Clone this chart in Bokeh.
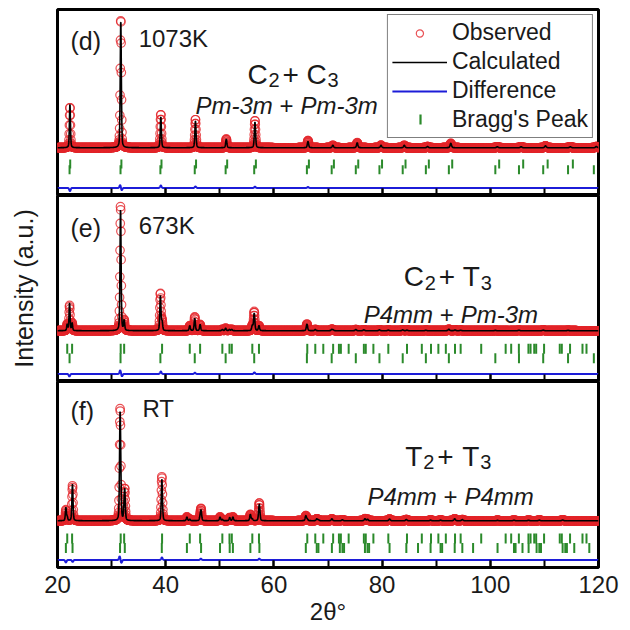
import numpy as np
from bokeh.embed import file_html
from bokeh.layouts import column
from bokeh.models import FixedTicker, Label, Legend, LegendItem, Range1d, SingleIntervalTicker
from bokeh.plotting import figure
from bokeh.resources import INLINE

FONT = "Liberation Sans"
INK = "#1a1a1a"
RED = "#e3262a"
BLUE = "#1c1cd8"
GREEN = "#2b8a2b"

# ---------------------------------------------------------------- data
two_theta_start, two_theta_end = 20, 120

# (d) 1073 K : cubic C2 + cubic C3
d_background = 0.0
d_peak_pos = [22.3, 31.7, 39.1, 45.5, 51.2, 56.5, 66.3, 70.9, 75.4, 79.8,
              84.1, 88.4, 92.7, 101.3, 105.7, 110.2, 114.8, 119.6]
d_peak_int = [35, 102, 24.7, 21.5, 7, 20.7, 5, 2, 4, 2,
              2, 1, 3.5, 0.8, 0.8, 1.5, 0.8, 1]
d_resid_pos = [22.3, 31.6, 31.85, 39.1, 45.5, 56.5, 66.3]
d_resid_amp = [-2.5, 2.5, -2, 2, 1.2, 1, 0.8]
d_bragg_c2 = [22.23, 31.65, 39.02, 45.37, 51.08, 56.36, 66.10, 70.68, 75.14, 79.51,
              83.81, 88.09, 92.34, 100.93, 105.30, 109.78, 114.37, 119.14]
d_bragg_c3 = [22.35, 31.81, 39.22, 45.61, 51.36, 56.67, 66.47, 71.09, 75.59, 79.99,
              84.33, 88.64, 92.96, 101.64, 106.08, 110.60, 115.26]

# (e) 673 K : cubic C2 + tetragonal T3
e_background = 2.4
e_peak_pos = [21.80, 22.23, 22.70, 31.65, 31.68, 32.32, 39.02, 39.33, 44.45, 45.37,
              46.36, 50.47, 51.08, 51.79, 52.22, 56.01, 56.36, 57.24, 66.10, 66.17,
              67.65, 70.68, 70.95, 75.14, 76.63, 79.51, 81.15, 83.81, 84.60, 88.09,
              92.34, 93.48, 94.52, 100.93, 105.30, 109.78, 114.37]
e_peak_int = [5, 22, 6, 80, 18, 8, 28, 7, 4, 10,
              5, 1, 2, 1, 1, 4, 14, 4, 4.5, 1,
              1, 1, 0.7, 1, 0.7, 0.7, 0.5, 0.7, 0.5, 0.4,
              1.2, 0.6, 0.4, 0.3, 0.4, 0.5, 0.3]
e_resid_pos = [22.2, 31.6, 31.9, 39.1, 45.4, 56.4]
e_resid_amp = [-2, 3, -2, 2, 1, 1.2]
e_bragg_c2 = d_bragg_c2
e_bragg_t3 = [21.80, 22.70, 31.68, 32.32, 39.33, 44.45, 46.36, 50.47, 51.79, 52.22,
              56.01, 57.24, 66.17, 67.65, 69.13, 70.95, 72.02, 72.38, 73.82, 76.63,
              76.98, 78.39, 81.15, 84.60, 87.34, 89.04, 90.40, 91.78, 93.48, 94.52,
              98.32, 102.84, 103.86, 105.28, 107.05, 107.44, 108.12, 108.48, 109.94, 112.84,
              113.22, 114.74, 117.04, 117.78]

# (f) RT : tetragonal T2 + tetragonal T3
f_background = -0.8
f_peak_pos = [21.55, 21.80, 22.70, 22.78, 31.56, 31.68, 32.32, 32.44, 39.28, 39.33,
              43.92, 44.45, 46.36, 46.54, 50.04, 50.47, 51.83, 52.42, 55.65, 56.01,
              57.24, 57.32, 65.90, 66.17, 67.92, 68.23, 70.72, 72.67, 76.83, 77.30,
              81.38, 84.48, 88.96, 90.81, 93.42, 94.83, 101.34, 104.38, 107.08, 109.06,
              113.37]
f_peak_int = [10.5, 3, 6, 25, 75, 24, 8, 21, 26, 8,
              3, 1.2, 3, 8, 3, 1, 2.5, 3, 5, 1.5,
              4, 10, 4, 1.2, 1.5, 0.8, 1.6, 0.8, 1.6, 1.2,
              1.4, 1.0, 0.5, 0.5, 1.6, 0.9, 0.3, 0.4, 0.4, 0.5,
              0.6]
f_resid_pos = [21.55, 22.8, 31.5, 31.8, 39.3, 46.5, 57.3]
f_resid_amp = [-2, -1.5, 3, -2.5, 2, 1, 1]
f_bragg_t2 = [21.55, 22.78, 31.56, 32.44, 39.28, 43.92, 46.54, 50.04, 51.83, 52.42,
              55.65, 57.32, 65.90, 67.92, 68.23, 70.72, 72.19, 72.67, 72.97, 76.83,
              77.30, 77.60, 81.38, 84.48, 86.64, 88.96, 90.81, 91.10, 93.42, 94.83,
              96.82, 101.34, 104.38, 104.67, 105.95, 107.08, 108.56, 109.06, 109.37, 113.37,
              113.86, 114.16, 115.52, 118.30]
f_bragg_t3 = e_bragg_t3

x_tick_interval = 20

# ---------------------------------------------------------------- profiles
step = 0.04
tth = np.arange(two_theta_start, two_theta_end + step / 2, step)


def calc_profile(pos, inten, background, w0=0.22):
    """Pseudo-Voigt sum of the refined reflections on a flat background."""
    y = np.full_like(tth, background)
    for p0, h in zip(pos, inten):
        w = w0 * (1 + 0.006 * (p0 - 20))
        u = (tth - p0) / w
        y += h * (0.65 * np.exp(-4 * np.log(2) * u ** 2) + 0.35 / (1 + 4 * u ** 2))
    return y


def resid_profile(pos, amp):
    r = np.zeros_like(tth)
    for p0, a in zip(pos, amp):
        r += a * np.exp(-((tth - p0) / 0.18) ** 2)
    return r


# ---------------------------------------------------------------- layout
Y_LO, Y_HI = -38, 110
DIFF_BASE = -32
x_range = Range1d(two_theta_start, two_theta_end)


def add_text(p, x, y, text, size, dx=0, dy=0, style="normal", baseline="alphabetic"):
    p.add_layout(Label(x=x, y=y, x_offset=dx, y_offset=dy, text=text,
                       text_font=FONT, text_font_size=size, text_font_style=style,
                       text_color=INK, text_align="left", text_baseline=baseline))


def build_panel(peaks, ints, background, rpos, ramp, ticks_lower, ticks_upper, tick_rows,
                first=False, last=False, ylabel=None):
    p = figure(x_range=x_range, y_range=Range1d(Y_LO, Y_HI),
               frame_width=541, frame_height=186,
               min_border_left=57, min_border_right=32,
               min_border_top=9 if first else 0, min_border_bottom=0,
               output_backend="svg", toolbar_location=None)
    p.grid.visible = False
    p.outline_line_color = "black"
    p.outline_line_width = 3
    p.background_fill_color = "white"
    p.border_fill_color = "white"

    calc = calc_profile(peaks, ints, background)
    resid = resid_profile(rpos, ramp)
    obs = calc + resid

    r_obs = p.scatter(tth, obs, marker="circle", size=8.5, fill_color=None,
                      line_color=RED, line_width=1.2, line_alpha=0.8)
    r_calc = p.line(tth, calc, line_color="black", line_width=1.6)
    r_diff = p.line(tth, resid + DIFF_BASE, line_color=BLUE, line_width=2)
    up_y, dn_y, tsize = tick_rows
    r_bragg = p.scatter(ticks_lower, [dn_y] * len(ticks_lower), marker="dash",
                        angle=np.pi / 2, size=tsize, line_color=GREEN, line_width=2)
    p.scatter(ticks_upper, [up_y] * len(ticks_upper), marker="dash",
              angle=np.pi / 2, size=tsize, line_color=GREEN, line_width=2)

    ax = p.xaxis[0]
    ax.ticker = SingleIntervalTicker(interval=x_tick_interval, num_minor_ticks=2)
    ax.axis_line_color = None
    ax.major_tick_in = 7
    ax.major_tick_out = 0
    ax.minor_tick_in = 7
    ax.minor_tick_out = 0
    ax.major_tick_line_width = 2
    ax.minor_tick_line_width = 2
    if last:
        ax.major_label_text_font = FONT
        ax.major_label_text_font_size = "24px"
        ax.major_label_text_color = INK
        ax.major_label_standoff = 8
        ax.axis_label = "2θ°"
        ax.axis_label_text_font = FONT
        ax.axis_label_text_font_size = "24px"
        ax.axis_label_text_font_style = "normal"
        ax.axis_label_text_color = INK
        ax.axis_label_standoff = 2
    else:
        ax.major_label_text_font_size = "1px"
        ax.major_label_text_color = None
        ax.major_label_standoff = 0

    ay = p.yaxis[0]
    ay.ticker = FixedTicker(ticks=[])
    ay.axis_line_color = None
    ay.major_tick_line_color = None
    ay.minor_tick_line_color = None
    ay.major_label_standoff = 0
    if ylabel:
        ay.axis_label = ylabel
        ay.axis_label_text_font = FONT
        ay.axis_label_text_font_size = "25px"
        ay.axis_label_text_font_style = "normal"
        ay.axis_label_text_color = INK
        ay.axis_label_standoff = 20
    return p, (r_obs, r_calc, r_diff, r_bragg)


p_d, rs = build_panel(d_peak_pos, d_peak_int, d_background, d_resid_pos, d_resid_amp,
                      d_bragg_c2, d_bragg_c3, (-13.0, -17.5, 9), first=True)
p_e, _ = build_panel(e_peak_pos, e_peak_int, e_background, e_resid_pos, e_resid_amp,
                     e_bragg_c2, e_bragg_t3, (-12.0, -19.5, 10), ylabel="Intensity (a.u.)")
p_f, _ = build_panel(f_peak_pos, f_peak_int, f_background, f_resid_pos, f_resid_amp,
                     f_bragg_t2, f_bragg_t3, (-15.0, -22.5, 10), last=True)

# panel tags and temperatures
for p, tag, temp, yy in ((p_d, "(d)", "1073K", 85.3), (p_e, "(e)", "673K", 84.5),
                         (p_f, "(f)", "RT", 86.9)):
    add_text(p, 22.4, yy, tag, "25px", baseline="middle")
    add_text(p, 35.0 if temp != "RT" else 35.7, yy + 1.5, temp, "24px", baseline="middle")


def phase_label(p, x, y, a, sa, b, sb, b_dx, sb_dx, first_w):
    add_text(p, x, y, a, "28px")
    add_text(p, x, y, sa, "20px", dx=first_w, dy=-6)
    add_text(p, x, y, "+", "28px", dx=first_w + 14)
    add_text(p, x, y, b, "28px", dx=b_dx)
    add_text(p, x, y, sb, "20px", dx=sb_dx, dy=-6)


def group_label(p, x, y, left, right, plus_dx, right_dx):
    add_text(p, x, y, left, "24px", style="italic")
    add_text(p, x, y, "+", "24px", dx=plus_dx)
    add_text(p, x, y, right, "24px", dx=right_dx, style="italic")


# phase labels with subscripts
phase_label(p_d, 55.1, 58.5, "C", "2", "C", "3", 59, 80, 21)
phase_label(p_e, 84.0, 45.5, "C", "2", "T", "3", 59, 77, 21)
phase_label(p_f, 84.3, 50.5, "T", "2", "T", "3", 57, 75, 18)

# space groups
group_label(p_d, 45.5, 33.5, "Pm-3m", "Pm-3m", 84, 105)
group_label(p_e, 76.6, 15.5, "P4mm", "Pm-3m", 76, 97)
group_label(p_f, 77.3, 18.5, "P4mm", "P4mm", 76, 97)

# legend; its Bragg key is drawn upright beneath the transparent legend box
legend = Legend(items=[LegendItem(label="Observed", renderers=[rs[0]]),
                       LegendItem(label="Calculated", renderers=[rs[1]]),
                       LegendItem(label="Difference", renderers=[rs[2]]),
                       LegendItem(label="Bragg's Peak", renderers=[])],
                location="top_right", margin=5, padding=4, spacing=2,
                glyph_width=55, glyph_height=18, label_height=24, label_standoff=5,
                label_text_font=FONT, label_text_font_size="23px", label_text_color=INK,
                border_line_color="black", border_line_width=1.5,
                background_fill_alpha=0)
p_d.add_layout(legend)
p_d.scatter([87.1], [22.5], marker="dash", angle=np.pi / 2, size=10,
            line_color=GREEN, line_width=2.2)

layout = column(p_d, p_e, p_f, spacing=0)
open("out.html", "w").write(file_html(layout, INLINE))
